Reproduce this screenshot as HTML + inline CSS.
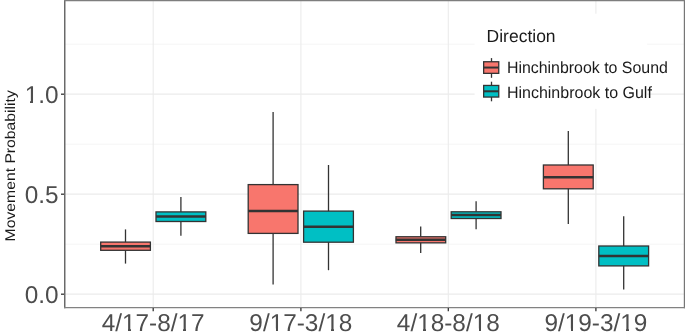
<!DOCTYPE html>
<html><head><meta charset="utf-8"><title>Movement Probability</title>
<style>
html,body{margin:0;padding:0;background:#fff;}
svg{display:block;}
text{font-family:"Liberation Sans",sans-serif;}
.ax{font-size:24.35px;fill:#4d4d4d;text-rendering:geometricPrecision;}
.lg{font-family:"Liberation Sans",sans-serif;fill:#1a1a1a;text-rendering:geometricPrecision;}
</style></head><body>
<svg width="685" height="332" viewBox="0 0 685 332">
<rect x="0" y="0" width="685" height="332" fill="#fff"/>
<!-- minor grid -->
<g stroke="#f0f0f0" stroke-width="0.7">
<line x1="65" x2="684" y1="44.2" y2="44.2"/>
<line x1="65" x2="684" y1="144.2" y2="144.2"/>
<line x1="65" x2="684" y1="244.2" y2="244.2"/>
</g>
<!-- major grid -->
<g stroke="#ebebeb" stroke-width="1.1">
<line x1="65" x2="684" y1="94.2" y2="94.2" stroke-width="1.3"/>
<line x1="65" x2="684" y1="194.2" y2="194.2" stroke-width="1.3"/>
<line x1="65" x2="684" y1="294.2" y2="294.2" stroke-width="1.3"/>
<line y1="1" y2="307" x1="153.2" x2="153.2"/>
<line y1="1" y2="307" x1="300.9" x2="300.9"/>
<line y1="1" y2="307" x1="448.3" x2="448.3"/>
<line y1="1" y2="307" x1="595.9" x2="595.9"/>
</g>
<!-- boxes -->
<g stroke="#333" stroke-width="1.3" fill="none">
<line x1="125.5" x2="125.5" y1="229.4" y2="263.6"/>
<rect x="100.7" y="242.1" width="49.7" height="8.2" fill="#F8766D"/>
<line x1="100.6" x2="150.4" y1="246.15" y2="246.15" stroke-width="2.5"/>
<line x1="180.9" x2="180.9" y1="197.1" y2="235.8"/>
<rect x="156.0" y="211.9" width="49.8" height="9.6" fill="#00BFC4"/>
<line x1="156.0" x2="205.8" y1="216.6" y2="216.6" stroke-width="2.5"/>
<line x1="273.1" x2="273.1" y1="112.0" y2="284.6"/>
<rect x="248.2" y="184.6" width="49.8" height="48.8" fill="#F8766D"/>
<line x1="248.2" x2="298.0" y1="211.1" y2="211.1" stroke-width="2.5"/>
<line x1="328.5" x2="328.5" y1="165.0" y2="270.2"/>
<rect x="303.6" y="211.1" width="49.8" height="31.1" fill="#00BFC4"/>
<line x1="303.6" x2="353.4" y1="226.8" y2="226.8" stroke-width="2.5"/>
<line x1="420.7" x2="420.7" y1="226.5" y2="253.1"/>
<rect x="396.0" y="236.75" width="49.7" height="6.1" fill="#F8766D"/>
<line x1="395.8" x2="445.6" y1="239.75" y2="239.75" stroke-width="2.5"/>
<line x1="476.1" x2="476.1" y1="201.2" y2="229.2"/>
<rect x="451.2" y="211.8" width="49.8" height="6.7" fill="#00BFC4"/>
<line x1="451.2" x2="501.0" y1="215.0" y2="215.0" stroke-width="2.5"/>
<line x1="568.3" x2="568.3" y1="131.0" y2="223.9"/>
<rect x="543.4" y="165.0" width="49.8" height="23.8" fill="#F8766D"/>
<line x1="543.4" x2="593.2" y1="177.2" y2="177.2" stroke-width="2.5"/>
<line x1="623.7" x2="623.7" y1="216.3" y2="289.4"/>
<rect x="598.8" y="246.0" width="49.8" height="19.9" fill="#00BFC4"/>
<line x1="598.8" x2="648.6" y1="256.0" y2="256.0" stroke-width="2.5"/>
</g>
<!-- legend -->
<rect x="474.6" y="13.7" width="172.6" height="95.1" fill="#fff"/>
<text class="lg" x="486.6" y="42.1" font-size="17.5" textLength="69" lengthAdjust="spacingAndGlyphs">Direction</text>
<g stroke="#333" stroke-width="1.3" fill="none">
<line x1="491.5" x2="491.5" y1="58.1" y2="77.8"/>
<rect x="483.65" y="61.75" width="15.1" height="11.6" fill="#F8766D"/>
<line x1="483.65" x2="498.75" y1="67.55" y2="67.55" stroke-width="2"/>
<line x1="491.5" x2="491.5" y1="81.7" y2="101.3"/>
<rect x="483.65" y="85.45" width="15.1" height="11.6" fill="#00BFC4"/>
<line x1="483.65" x2="498.75" y1="91.3" y2="91.3" stroke-width="2"/>
</g>
<text class="lg" x="506.9" y="73.2" font-size="16.4" textLength="161" lengthAdjust="spacingAndGlyphs">Hinchinbrook to Sound</text>
<text class="lg" x="506.9" y="98.0" font-size="16.4" textLength="145" lengthAdjust="spacingAndGlyphs">Hinchinbrook to Gulf</text>
<!-- panel border -->
<g stroke="#666" stroke-width="1.45">
<line x1="64.75" x2="64.75" y1="0" y2="308.2"/>
<line x1="684.45" x2="684.45" y1="0" y2="308.2" stroke="#767676" stroke-width="1.3"/>
<line x1="64" x2="685" y1="0.5" y2="0.5" stroke="#7e7e7e" stroke-width="1.4"/>
<line x1="64" x2="685" y1="307.55" y2="307.55" stroke="#828282" stroke-width="1.3"/>
</g>
<!-- ticks -->
<g stroke="#333" stroke-width="1.3">
<line x1="61" x2="64" y1="94.2" y2="94.2" stroke-width="1.3"/>
<line x1="61" x2="64" y1="194.2" y2="194.2" stroke-width="1.3"/>
<line x1="61" x2="64" y1="294.2" y2="294.2" stroke-width="1.3"/>
<line y1="308" y2="311.2" x1="153.2" x2="153.2"/>
<line y1="308" y2="311.2" x1="300.9" x2="300.9"/>
<line y1="308" y2="311.2" x1="448.3" x2="448.3"/>
<line y1="308" y2="311.2" x1="595.9" x2="595.9"/>
</g>
<!-- axis text -->
<g class="ax" text-anchor="end">
<text x="58.5" y="102.7">1.0</text>
<text x="58.5" y="202.7">0.5</text>
<text x="58.5" y="302.7">0.0</text>
</g>
<g class="ax" text-anchor="middle">
<text x="153.1" y="331.1">4/17-8/17</text>
<text x="300.8" y="331.1">9/17-3/18</text>
<text x="448.3" y="331.1">4/18-8/18</text>
<text x="595.9" y="331.1">9/19-3/19</text>
</g>
<!-- hide serif foot on digit one (Liberation Sans) to match reference glyph shape -->
<g fill="#fff">
<rect x="123" y="328.5" width="5" height="3.0"/>
<rect x="131" y="328.5" width="4" height="3.0"/>
<rect x="178" y="328.5" width="5" height="3.0"/>
<rect x="186" y="328.5" width="5" height="3.0"/>
<rect x="271" y="328.5" width="5" height="3.0"/>
<rect x="278" y="328.5" width="5" height="3.0"/>
<rect x="326" y="328.5" width="5" height="3.0"/>
<rect x="334" y="328.5" width="5" height="3.0"/>
<rect x="418" y="328.5" width="5" height="3.0"/>
<rect x="426" y="328.5" width="5" height="3.0"/>
<rect x="474" y="328.5" width="5" height="3.0"/>
<rect x="481" y="328.5" width="5" height="3.0"/>
<rect x="566" y="328.5" width="5" height="3.0"/>
<rect x="573" y="328.5" width="5" height="3.0"/>
<rect x="621" y="328.5" width="5" height="3.0"/>
<rect x="629" y="328.5" width="5" height="3.0"/>
<rect x="26" y="100.5" width="4" height="3.0"/>
<rect x="33" y="100.5" width="5" height="3.0"/>
</g>
<text class="lg" transform="translate(14.9,241.4) rotate(-90)" font-size="14.1" textLength="151.2" lengthAdjust="spacingAndGlyphs">Movement Probability</text>
</svg>
</body></html>
